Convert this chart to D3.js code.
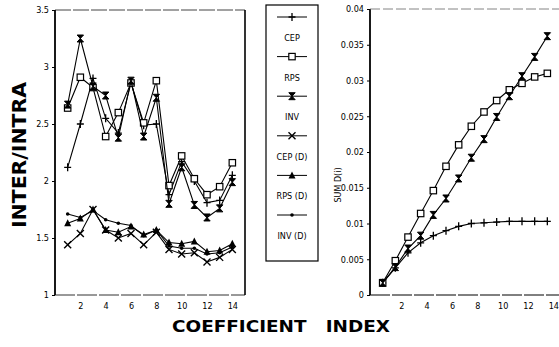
<!DOCTYPE html>
<meta charset="utf-8">
<script src="https://d3js.org/d3.v7.min.js"></script>
<style>
  body { margin: 0; background: #fff; }
  text { fill: #000; }
  .tick text { font-family: "Liberation Sans Narrow", "DejaVu Sans Condensed", sans-serif; font-size: 9px; }
  .domain { display: none; }
</style>
<body>
<div id="graph"></div>
<script>
  // coefficient index (x values, both panels)
  var coefIndex = [1, 2, 3, 4, 5, 6, 7, 8, 9, 10, 11, 12, 13, 14];

  // left panel : INTER/INTRA ratio
  var cep  = [2.12, 2.50, 2.90, 2.55, 2.42, 2.86, 2.49, 2.50, 1.88, 2.17, 2.00, 1.81, 1.83, 2.05];
  var rps  = [2.64, 2.91, 2.82, 2.39, 2.60, 2.86, 2.51, 2.88, 1.96, 2.22, 2.02, 1.88, 1.95, 2.16];
  var inv  = [2.67, 3.25, 2.83, 2.75, 2.38, 2.88, 2.39, 2.73, 1.80, 2.12, 1.79, 1.68, 1.76, 1.99];
  var cepD = [1.44, 1.54, 1.75, 1.57, 1.50, 1.54, 1.44, 1.55, 1.40, 1.36, 1.37, 1.29, 1.33, 1.40];
  var rpsD = [1.63, 1.67, 1.75, 1.57, 1.55, 1.60, 1.53, 1.57, 1.46, 1.45, 1.47, 1.38, 1.39, 1.45];
  var invD = [1.71, 1.68, 1.74, 1.66, 1.63, 1.61, 1.52, 1.57, 1.43, 1.41, 1.41, 1.36, 1.37, 1.42];

  // right panel : SUM D(i)
  var sumCep = [0.0017, 0.0038, 0.0059, 0.0073, 0.0083, 0.0090, 0.0096, 0.0100, 0.0101, 0.0102, 0.0103, 0.0103, 0.0103, 0.0103];
  var sumRps = [0.0017, 0.0048, 0.0081, 0.0114, 0.0146, 0.0180, 0.0210, 0.0236, 0.0256, 0.0272, 0.0287, 0.0296, 0.0305, 0.0310];
  var sumInv = [0.0017, 0.0039, 0.0065, 0.0083, 0.0112, 0.0135, 0.0163, 0.0192, 0.0218, 0.0249, 0.0278, 0.0306, 0.0333, 0.0362];

  var legendNames = ["CEP", "RPS", "INV", "CEP (D)", "RPS (D)", "INV (D)"];
  var markers = ["plus", "square", "hourglass", "cross", "triangle", "dot"];
  var leftTicksY = [1, 1.5, 2, 2.5, 3, 3.5];
  var rightTicksY = [0, 0.005, 0.01, 0.015, 0.02, 0.025, 0.03, 0.035, 0.04];
  var ticksX = [2, 4, 6, 8, 10, 12, 14];

  var svg = d3.select("#graph").append("svg")
    .attr("width", 559)
    .attr("height", 347);

  // draw a marker symbol at (cx, cy)
  function drawMarker(g, type, cx, cy) {
    var m = g.append("g").attr("transform", "translate(" + cx + "," + cy + ")");
    if (type === "plus") {
      m.append("path").attr("d", "M-3.5,0H3.5M0,-4V4").attr("stroke", "#000").attr("stroke-width", 1.3);
    } else if (type === "square") {
      m.append("rect").attr("x", -3.2).attr("y", -3.2).attr("width", 6.4).attr("height", 6.4)
        .attr("fill", "#fff").attr("stroke", "#000").attr("stroke-width", 1.2);
    } else if (type === "hourglass") {
      m.append("path").attr("d", "M-3.2,-3.5H3.2L-3.2,3.5H3.2Z").attr("fill", "#000").attr("stroke", "#000").attr("stroke-width", 1);
    } else if (type === "cross") {
      m.append("path").attr("d", "M-3.5,-3.5L3.5,3.5M-3.5,3.5L3.5,-3.5").attr("stroke", "#000").attr("stroke-width", 1.4);
    } else if (type === "triangle") {
      m.append("path").attr("d", "M0,-4L3.5,3L-3.5,3Z").attr("fill", "#000");
    } else {
      m.append("circle").attr("r", 1.8).attr("fill", "#000");
    }
  }

  function drawSeries(g, x, y, vals, type) {
    var pts = coefIndex.map(function (c, i) { return [c, vals[i]]; });
    g.append("path")
      .datum(pts)
      .attr("fill", "none")
      .attr("stroke", "#000")
      .attr("stroke-width", 1.1)
      .attr("d", d3.line().x(function (d) { return x(d[0]); }).y(function (d) { return y(d[1]); }));
    pts.forEach(function (d) { drawMarker(g, type, x(d[0]), y(d[1])); });
  }

  // ---------- left panel ----------
  var xL = d3.scaleLinear().domain([0, 15]).range([55, 245]);
  var yL = d3.scaleLinear().domain([1, 3.5]).range([295, 10]);

  var left = svg.append("g");
  left.append("line").attr("x1", 55).attr("x2", 245).attr("y1", 10).attr("y2", 10)
    .attr("stroke", "#444").attr("stroke-width", 1).attr("stroke-dasharray", "16,2");
  left.append("line").attr("x1", 55).attr("x2", 245).attr("y1", 295).attr("y2", 295)
    .attr("stroke", "#333").attr("stroke-width", 1).attr("stroke-dasharray", "20,2");
  left.append("line").attr("x1", 55).attr("x2", 55).attr("y1", 10).attr("y2", 295)
    .attr("stroke", "#000").attr("stroke-width", 1.8);
  left.append("line").attr("x1", 245).attr("x2", 245).attr("y1", 10).attr("y2", 295)
    .attr("stroke", "#000").attr("stroke-width", 1.6);

  left.append("g").attr("transform", "translate(55,0)")
    .call(d3.axisLeft(yL).tickValues(leftTicksY).tickSize(3).tickFormat(d3.format("")));
  left.append("g").attr("transform", "translate(0,297)")
    .call(d3.axisBottom(xL).tickValues(ticksX).tickSize(0).tickPadding(6));

  var leftSeries = [cep, rps, inv, cepD, rpsD, invD];
  leftSeries.forEach(function (s, i) { drawSeries(left, xL, yL, s, markers[i]); });

  svg.append("text")
    .attr("transform", "translate(26,155) rotate(-90)")
    .attr("text-anchor", "middle")
    .attr("font-family", "DejaVu Sans, sans-serif")
    .attr("font-weight", "bold")
    .attr("font-size", 19)
    .attr("textLength", 146)
    .attr("lengthAdjust", "spacingAndGlyphs")
    .text("INTER/INTRA");

  // ---------- legend ----------
  var legend = svg.append("g");
  legend.append("rect").attr("x", 266).attr("y", 5).attr("width", 52).attr("height", 256)
    .attr("fill", "none").attr("stroke", "#000").attr("stroke-width", 1.2);
  legendNames.forEach(function (name, i) {
    var yy = 17 + i * 39.6;
    legend.append("line").attr("x1", 277).attr("x2", 307).attr("y1", yy).attr("y2", yy)
      .attr("stroke", "#000").attr("stroke-width", 1);
    drawMarker(legend, markers[i], 292, yy);
    legend.append("text")
      .attr("x", 292).attr("y", yy + 24)
      .attr("text-anchor", "middle")
      .attr("font-family", "Liberation Sans Narrow, DejaVu Sans Condensed, sans-serif")
      .attr("font-size", 9)
      .text(name);
  });

  // ---------- right panel ----------
  var xR = d3.scaleLinear().domain([0, 15]).range([370, 560]);
  var yR = d3.scaleLinear().domain([0, 0.04]).range([295, 9]);

  var right = svg.append("g");
  right.append("line").attr("x1", 370).attr("x2", 370).attr("y1", 9).attr("y2", 295)
    .attr("stroke", "#000").attr("stroke-width", 1.8);
  right.append("line").attr("x1", 370).attr("x2", 559).attr("y1", 9).attr("y2", 9)
    .attr("stroke", "#666").attr("stroke-width", 0.8).attr("stroke-dasharray", "10,3");
  right.append("line").attr("x1", 370).attr("x2", 559).attr("y1", 295).attr("y2", 295)
    .attr("stroke", "#000").attr("stroke-width", 1).attr("stroke-dasharray", "20,2");

  right.append("g").attr("transform", "translate(370,0)")
    .call(d3.axisLeft(yR).tickValues(rightTicksY).tickSize(3).tickFormat(d3.format("")));
  right.append("g").attr("transform", "translate(6,297)")
    .call(d3.axisBottom(xR).tickValues(ticksX).tickSize(0).tickPadding(6));

  drawSeries(right, xR, yR, sumCep, "plus");
  drawSeries(right, xR, yR, sumRps, "square");
  drawSeries(right, xR, yR, sumInv, "hourglass");

  svg.append("text")
    .attr("transform", "translate(341,185) rotate(-90)")
    .attr("text-anchor", "middle")
    .attr("font-family", "DejaVu Sans, sans-serif")
    .attr("font-size", 8)
    .text("SUM D(i)");

  // ---------- x title ----------
  svg.append("text")
    .attr("x", 281).attr("y", 332)
    .attr("text-anchor", "middle")
    .attr("font-family", "DejaVu Sans, sans-serif")
    .attr("font-weight", "bold")
    .attr("font-size", 15)
    .attr("textLength", 218)
    .attr("lengthAdjust", "spacingAndGlyphs")
    .style("white-space", "pre")
    .text("COEFFICIENT   INDEX");
</script>
</body>
